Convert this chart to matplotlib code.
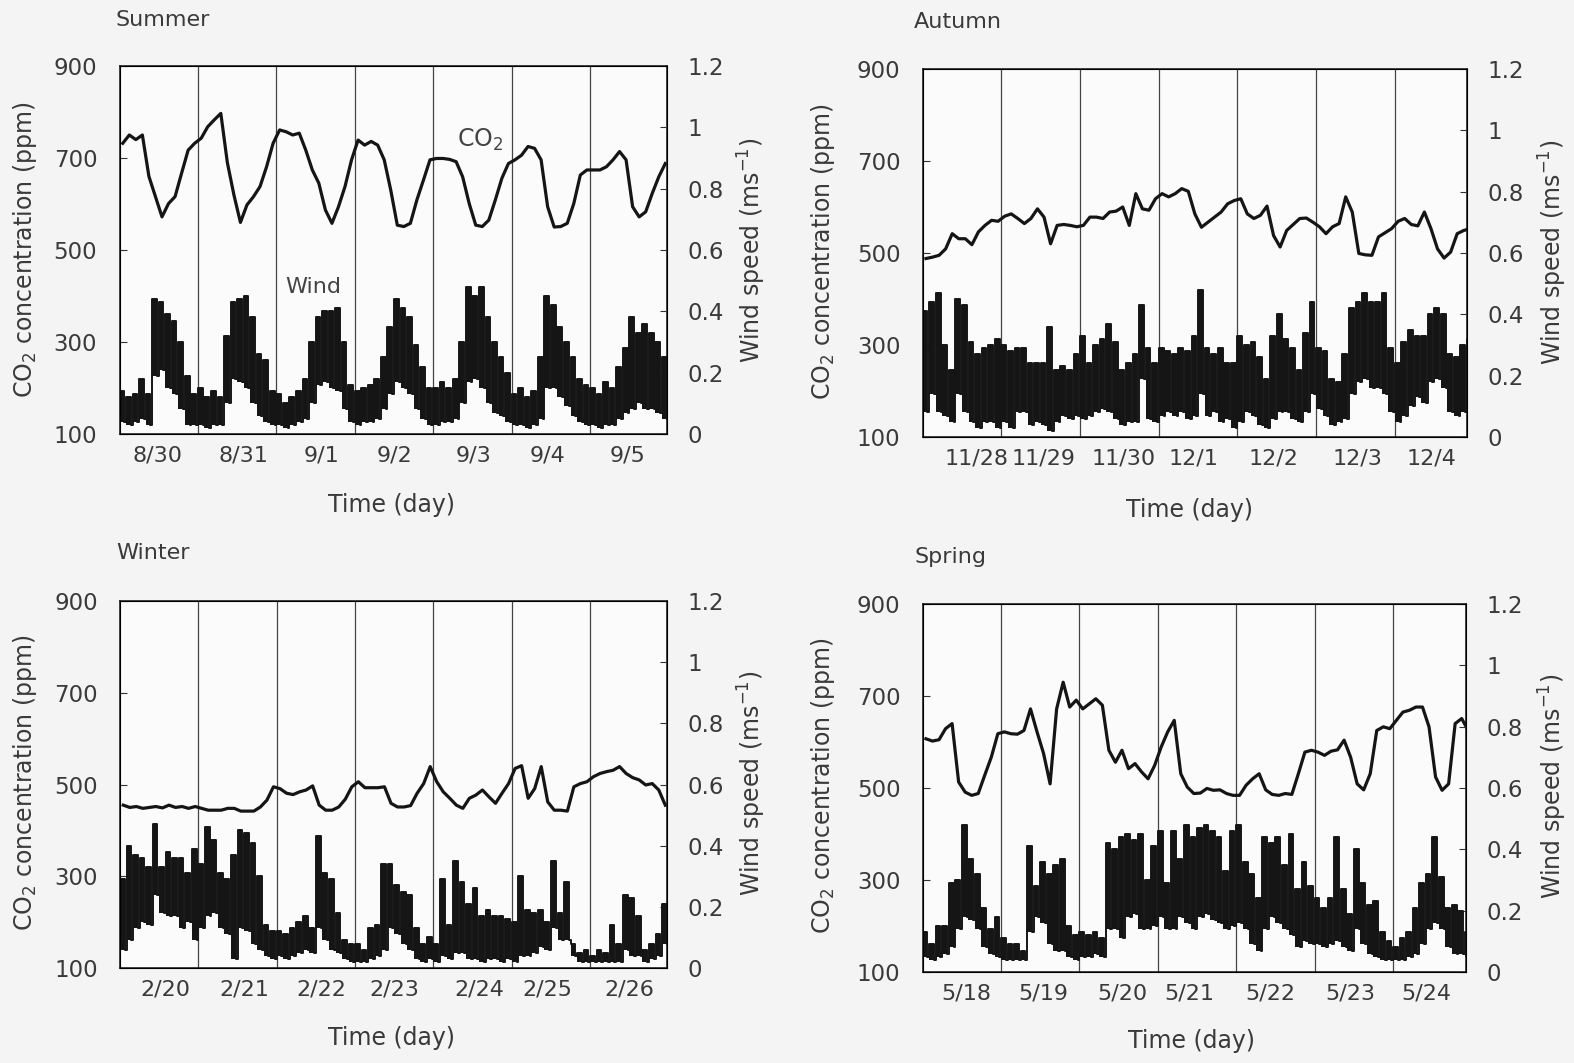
import numpy as np
import matplotlib
matplotlib.use("Agg")
import matplotlib.pyplot as plt

plt.rcParams['font.family'] = ['DejaVu Sans']
plt.rcParams['mathtext.default'] = 'regular'

W, H = 1574, 1063
TXT = '#3a3a3a'
LINE = '#151515'

# ---- data: 2-hour bins, 12 per day, 7 days ----
summer_co2 = [732, 750, 740, 750, 660, 616, 572, 601, 616, 667, 717, 732,
              743, 768, 783, 797, 690, 620, 560, 598, 616, 638, 681, 732,
              761, 757, 750, 754, 717, 674, 645, 587, 558, 594, 638, 696,
              739, 728, 736, 728, 696, 630, 554, 551, 558, 609, 652, 696,
              699, 699, 697, 692, 659, 601, 554, 551, 565, 609, 656, 688,
              696, 706, 725, 721, 696, 594, 550, 551, 558, 601, 663, 674,
              674, 674, 681, 696, 714, 696, 594, 572, 583, 623, 659, 688]
summer_wind_hi = [0.14, 0.12, 0.13, 0.18, 0.13, 0.44, 0.43, 0.39, 0.37, 0.30, 0.19, 0.13,
                  0.15, 0.12, 0.14, 0.12, 0.32, 0.43, 0.44, 0.45, 0.38, 0.26, 0.24, 0.14,
                  0.13, 0.10, 0.12, 0.14, 0.18, 0.30, 0.38, 0.40, 0.40, 0.41, 0.30, 0.16,
                  0.14, 0.15, 0.16, 0.18, 0.25, 0.35, 0.44, 0.41, 0.38, 0.29, 0.22, 0.15,
                  0.15, 0.17, 0.15, 0.18, 0.30, 0.48, 0.45, 0.48, 0.38, 0.30, 0.25, 0.20,
                  0.13, 0.15, 0.12, 0.14, 0.25, 0.45, 0.42, 0.35, 0.30, 0.25, 0.18, 0.16,
                  0.15, 0.13, 0.17, 0.15, 0.22, 0.28, 0.38, 0.33, 0.36, 0.33, 0.30, 0.25]
summer_wind_lo = [0.04, 0.03, 0.04, 0.05, 0.03, 0.19, 0.21, 0.15, 0.13, 0.08, 0.03, 0.03,
                  0.03, 0.02, 0.03, 0.03, 0.10, 0.18, 0.17, 0.15, 0.10, 0.06, 0.04, 0.03,
                  0.03, 0.02, 0.03, 0.04, 0.05, 0.10, 0.16, 0.17, 0.15, 0.14, 0.08, 0.04,
                  0.03, 0.04, 0.04, 0.05, 0.08, 0.13, 0.17, 0.15, 0.13, 0.08, 0.05, 0.03,
                  0.03, 0.04, 0.04, 0.05, 0.10, 0.17, 0.18, 0.15, 0.10, 0.07, 0.06, 0.04,
                  0.03, 0.03, 0.02, 0.03, 0.05, 0.15, 0.15, 0.12, 0.09, 0.06, 0.04, 0.03,
                  0.03, 0.02, 0.03, 0.03, 0.05, 0.07, 0.08, 0.10, 0.08, 0.08, 0.07, 0.05]
summer_dates = ['8/30', '8/31', '9/1', '9/2', '9/3', '9/4', '9/5']
summer_date_pos = [0.49, 1.58, 2.57, 3.5, 4.51, 5.46, 6.48]

autumn_co2 = [488, 491, 495, 509, 542, 531, 531, 518, 546, 560, 571, 569,
              580, 585, 575, 564, 575, 596, 578, 520, 560, 562, 560, 557,
              560, 578, 578, 575, 589, 591, 600, 560, 629, 596, 593, 618,
              629, 622, 629, 640, 634, 585, 556, 567, 578, 589, 607, 614,
              618, 585, 575, 582, 602, 538, 513, 549, 562, 575, 576, 567,
              557, 542, 557, 564, 622, 589, 499, 496, 495, 535, 544, 553,
              569, 575, 562, 559, 589, 553, 509, 489, 502, 542, 549, 553]
autumn_wind_hi = [0.41, 0.44, 0.47, 0.30, 0.22, 0.45, 0.43, 0.31, 0.27, 0.29, 0.30, 0.32,
                  0.30, 0.28, 0.29, 0.29, 0.24, 0.24, 0.24, 0.36, 0.22, 0.23, 0.22, 0.27,
                  0.33, 0.24, 0.30, 0.32, 0.37, 0.31, 0.22, 0.24, 0.27, 0.43, 0.29, 0.24,
                  0.29, 0.28, 0.27, 0.29, 0.28, 0.33, 0.48, 0.29, 0.27, 0.29, 0.24, 0.24,
                  0.33, 0.30, 0.31, 0.26, 0.19, 0.33, 0.40, 0.32, 0.29, 0.22, 0.34, 0.44,
                  0.29, 0.28, 0.19, 0.18, 0.27, 0.42, 0.44, 0.47, 0.44, 0.44, 0.47, 0.29,
                  0.24, 0.31, 0.35, 0.33, 0.33, 0.40, 0.42, 0.40, 0.27, 0.26, 0.30, 0.32]
autumn_wind_lo = [0.08, 0.14, 0.08, 0.07, 0.05, 0.14, 0.08, 0.05, 0.03, 0.05, 0.05, 0.03,
                  0.05, 0.03, 0.08, 0.08, 0.04, 0.05, 0.04, 0.02, 0.05, 0.07, 0.06, 0.07,
                  0.06, 0.07, 0.08, 0.09, 0.08, 0.06, 0.04, 0.05, 0.05, 0.19, 0.06, 0.05,
                  0.07, 0.08, 0.07, 0.08, 0.06, 0.07, 0.14, 0.07, 0.08, 0.05, 0.06, 0.03,
                  0.05, 0.08, 0.07, 0.04, 0.03, 0.06, 0.08, 0.08, 0.06, 0.05, 0.08, 0.14,
                  0.09, 0.07, 0.04, 0.05, 0.06, 0.14, 0.18, 0.19, 0.16, 0.16, 0.14, 0.08,
                  0.05, 0.07, 0.10, 0.13, 0.11, 0.18, 0.19, 0.16, 0.08, 0.07, 0.08, 0.07]
autumn_dates = ['11/28', '11/29', '11/30', '12/1', '12/2', '12/3', '12/4']
autumn_date_pos = [0.68, 1.53, 2.55, 3.44, 4.46, 5.53, 6.47]

winter_co2 = [455, 450, 452, 448, 450, 452, 449, 455, 450, 452, 448, 452,
              448, 444, 444, 444, 448, 448, 442, 442, 442, 451, 466, 495,
              491, 481, 478, 484, 488, 497, 455, 444, 444, 451, 468, 495,
              506, 493, 493, 493, 495, 459, 451, 451, 454, 481, 502, 539,
              506, 484, 470, 455, 448, 470, 477, 488, 473, 459, 481, 502,
              535, 541, 470, 491, 539, 462, 444, 444, 442, 495, 502, 506,
              517, 524, 528, 531, 539, 524, 515, 510, 499, 502, 488, 455]
winter_wind_hi = [0.29, 0.40, 0.37, 0.36, 0.33, 0.47, 0.33, 0.38, 0.36, 0.36, 0.31, 0.39,
                  0.34, 0.46, 0.42, 0.31, 0.29, 0.37, 0.45, 0.44, 0.41, 0.30, 0.14, 0.12,
                  0.12, 0.11, 0.13, 0.15, 0.17, 0.13, 0.43, 0.31, 0.29, 0.18, 0.09, 0.08,
                  0.08, 0.06, 0.13, 0.14, 0.34, 0.34, 0.27, 0.25, 0.24, 0.13, 0.08, 0.10,
                  0.08, 0.29, 0.14, 0.35, 0.28, 0.21, 0.26, 0.17, 0.19, 0.17, 0.17, 0.16,
                  0.15, 0.30, 0.19, 0.18, 0.19, 0.15, 0.35, 0.18, 0.28, 0.08, 0.05, 0.06,
                  0.04, 0.06, 0.05, 0.14, 0.08, 0.24, 0.23, 0.17, 0.06, 0.08, 0.11, 0.21]
winter_wind_lo = [0.06, 0.09, 0.13, 0.15, 0.14, 0.24, 0.18, 0.17, 0.17, 0.13, 0.15, 0.09,
                  0.13, 0.17, 0.18, 0.13, 0.11, 0.03, 0.13, 0.12, 0.08, 0.06, 0.04, 0.03,
                  0.04, 0.03, 0.04, 0.05, 0.06, 0.05, 0.13, 0.09, 0.06, 0.05, 0.03, 0.02,
                  0.02, 0.02, 0.03, 0.04, 0.06, 0.13, 0.11, 0.08, 0.06, 0.03, 0.02, 0.03,
                  0.02, 0.04, 0.03, 0.05, 0.05, 0.03, 0.03, 0.02, 0.03, 0.03, 0.02, 0.03,
                  0.02, 0.04, 0.04, 0.05, 0.07, 0.06, 0.13, 0.09, 0.09, 0.04, 0.02, 0.02,
                  0.02, 0.02, 0.02, 0.02, 0.02, 0.06, 0.04, 0.04, 0.02, 0.03, 0.04, 0.08]
winter_dates = ['2/20', '2/21', '2/22', '2/23', '2/24', '2/25', '2/26']
winter_date_pos = [0.58, 1.59, 2.57, 3.5, 4.58, 5.45, 6.5]

spring_co2 = [607, 602, 605, 629, 640, 513, 491, 484, 488, 528, 567, 618,
              622, 618, 617, 625, 672, 622, 575, 509, 672, 730, 676, 691,
              672, 683, 694, 680, 582, 556, 582, 542, 553, 535, 520, 549,
              589, 622, 647, 531, 502, 488, 489, 499, 495, 496, 488, 484,
              484, 506, 520, 531, 496, 486, 484, 488, 486, 531, 578, 582,
              578, 571, 580, 583, 604, 567, 509, 496, 531, 625, 633, 629,
              647, 665, 669, 676, 676, 633, 524, 495, 509, 640, 651, 625]
spring_wind_hi = [0.13, 0.09, 0.15, 0.15, 0.29, 0.30, 0.48, 0.37, 0.32, 0.21, 0.14, 0.18,
                  0.11, 0.09, 0.09, 0.07, 0.41, 0.28, 0.36, 0.32, 0.35, 0.37, 0.15, 0.12,
                  0.13, 0.12, 0.13, 0.11, 0.42, 0.40, 0.44, 0.45, 0.43, 0.45, 0.30, 0.41,
                  0.46, 0.29, 0.46, 0.37, 0.48, 0.44, 0.47, 0.48, 0.46, 0.44, 0.33, 0.46,
                  0.48, 0.36, 0.32, 0.24, 0.44, 0.42, 0.44, 0.35, 0.45, 0.27, 0.36, 0.28,
                  0.24, 0.21, 0.24, 0.44, 0.27, 0.19, 0.40, 0.29, 0.22, 0.23, 0.13, 0.10,
                  0.08, 0.11, 0.13, 0.21, 0.29, 0.32, 0.44, 0.31, 0.21, 0.22, 0.20, 0.13]
spring_wind_lo = [0.05, 0.04, 0.05, 0.06, 0.08, 0.14, 0.18, 0.17, 0.14, 0.08, 0.06, 0.05,
                  0.04, 0.04, 0.04, 0.04, 0.13, 0.18, 0.16, 0.09, 0.07, 0.07, 0.05, 0.04,
                  0.05, 0.05, 0.06, 0.05, 0.14, 0.14, 0.11, 0.18, 0.19, 0.14, 0.14, 0.15,
                  0.18, 0.14, 0.14, 0.18, 0.16, 0.14, 0.18, 0.19, 0.17, 0.16, 0.14, 0.15,
                  0.16, 0.14, 0.09, 0.07, 0.14, 0.18, 0.16, 0.14, 0.12, 0.08, 0.10, 0.09,
                  0.09, 0.08, 0.09, 0.10, 0.08, 0.07, 0.14, 0.09, 0.06, 0.05, 0.04, 0.04,
                  0.04, 0.04, 0.05, 0.06, 0.09, 0.14, 0.16, 0.14, 0.08, 0.06, 0.06, 0.05]
spring_dates = ['5/18', '5/19', '5/20', '5/21', '5/22', '5/23', '5/24']
spring_date_pos = [0.55, 1.54, 2.55, 3.4, 4.43, 5.45, 6.43]


def px_rect(l, r, t, b):
    return [l / W, 1 - b / H, (r - l) / W, (b - t) / H]


def ftext(fig, x, y, s, **kw):
    fig.text(x / W, 1 - y / H, s, color=TXT, **kw)


def draw_panel(fig, box, xmax, co2, hi, lo, dates, date_pos, title, labels_at):
    ax = fig.add_axes(px_rect(*box))
    ax.set_facecolor('#fbfbfb')
    n = len(co2)
    t = (np.arange(n) + 0.5) / 12
    ax.plot(t, co2, color=LINE, lw=2.3, zorder=3)
    ax.set_xlim(0, xmax)
    ax.set_ylim(100, 900)
    ax.set_yticks([100, 300, 500, 700, 900])
    ax.set_xticks(date_pos)
    ax.set_xticklabels(dates)
    ax.set_xticks(range(1, 7), minor=True)
    ax.grid(axis='x', which='minor', color='#444444', lw=0.9)
    ax.tick_params(axis='x', which='both', length=0, pad=8, labelsize=16, labelcolor=TXT)
    ax.tick_params(axis='y', direction='in', length=5, pad=16, labelsize=16.5,
                   labelcolor=TXT, color='#333333')
    for sp in ax.spines.values():
        sp.set_color('#222222')
        sp.set_linewidth(1.2)

    # wind: within each 2-hour bin a gust bar (lo -> hi) followed by a lull at lo
    ax2 = ax.twinx()
    hi = np.asarray(hi)
    lo = np.asarray(lo)
    edges = np.arange(n) / 12
    gust = 0.72 / 12
    ax2.bar(edges, hi - lo, bottom=lo, width=gust, align='edge',
            color=LINE, linewidth=0, zorder=2)
    wx = np.empty(2 * n)
    wx[0::2] = edges
    wx[1::2] = edges + gust
    wy = np.empty(2 * n)
    wy[0::2] = hi
    wy[1::2] = lo
    ax2.plot(wx, wy, color=LINE, lw=1.4, drawstyle='steps-post', zorder=2)
    ax2.set_ylim(0, 1.2)
    ax2.set_yticks([0, 0.2, 0.4, 0.6, 0.8, 1.0, 1.2])
    ax2.set_yticklabels(['0', '0.2', '0.4', '0.6', '0.8', '1', '1.2'])
    ax2.tick_params(axis='y', direction='in', length=5, pad=15, labelsize=16.5,
                    labelcolor=TXT, color='#333333')
    ax2.set_xlim(0, xmax)

    (tx, ty), (lx, ly), (rx, ry), (bx, by) = labels_at
    ftext(fig, tx, ty, title, ha='left', va='center', fontsize=16)
    ftext(fig, lx, ly, 'CO$_2$ concentration (ppm)', ha='center', va='center',
          rotation=90, fontsize=17)
    ftext(fig, rx, ry, 'Wind speed (ms$^{-1}$)', ha='center', va='center',
          rotation=90, fontsize=17)
    ftext(fig, bx, by, 'Time (day)', ha='center', va='center', fontsize=17)
    return ax


fig = plt.figure(figsize=(W / 100, H / 100), dpi=100)
fig.patch.set_facecolor('#f4f4f4')

ax_s = draw_panel(fig, (119.5, 667, 66, 434), 6.98, summer_co2, summer_wind_hi,
                  summer_wind_lo, summer_dates, summer_date_pos, 'Summer',
                  [(116, 20), (25, 250), (752, 250), (392, 505)])
draw_panel(fig, (922.7, 1466.5, 69, 437), 6.91, autumn_co2, autumn_wind_hi,
           autumn_wind_lo, autumn_dates, autumn_date_pos, 'Autumn',
           [(914, 22), (823, 252), (1553, 252), (1190, 510)])
draw_panel(fig, (120, 667, 601, 968), 6.98, winter_co2, winter_wind_hi,
           winter_wind_lo, winter_dates, winter_date_pos, 'Winter',
           [(116, 553), (25, 783), (752, 783), (392, 1038)])
draw_panel(fig, (922.7, 1466, 604, 972), 6.93, spring_co2, spring_wind_hi,
           spring_wind_lo, spring_dates, spring_date_pos, 'Spring',
           [(914, 557), (823, 786), (1553, 786), (1192, 1041)])

# in-plot series labels (summer panel only)
ax_s.text(0.658, 0.80, 'CO$_2$', transform=ax_s.transAxes, ha='center', va='center',
          fontsize=17, color='#444444', zorder=5)
ax_s.text(0.353, 0.40, 'Wind', transform=ax_s.transAxes, ha='center', va='center',
          fontsize=16, color='#444444', zorder=5)

fig.savefig('out.png', dpi=100, facecolor=fig.get_facecolor())
